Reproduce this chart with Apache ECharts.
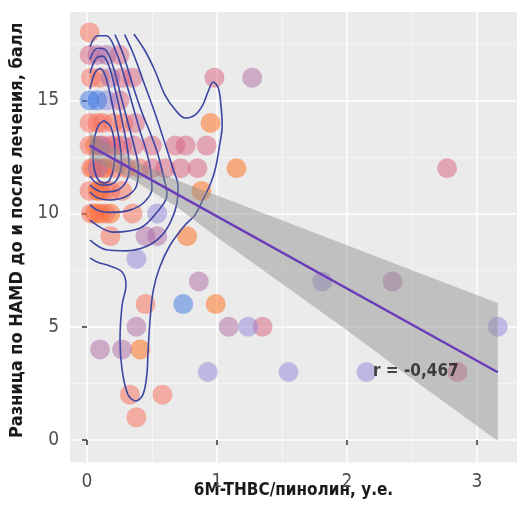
<!DOCTYPE html>
<html>
<head>
<meta charset="utf-8">
<script src="https://cdn.jsdelivr.net/npm/echarts@6/dist/echarts.min.js"></script>
<style>html,body{margin:0;padding:0;background:#fff}#c{width:517px;height:514px}</style>
</head>
<body>
<div id="c"></div>
<script>
// ---- axis ticks ----
const xTicks = [0, 1, 2, 3];
const yTicks = [0, 5, 10, 15];
const xMinor = [0.5, 1.5, 2.5];
const yMinor = [2.5, 7.5, 12.5, 17.5];

// ---- points (x = 6M-THBC/pinolin, y = HAMD difference), grouped by colour ----
const orangePts = [[0.95,14],[1.15,12],[0.88,11],[0.77,9],[0.99,6],[0.41,4],[0.1,10],[0.18,10],[0.05,12],[0.1,11],[0.06,13],[0.12,12],[0.08,11],[0.06,10]];
const salmonPts = [[0.02,18],[0.38,1],[0.33,2],[0.58,2],[0.45,6],[0.35,10],[0.18,9],[0.02,14],[0.12,14],[0.2,14],[0.28,14],[0.03,16],[0.1,16],[0.02,13],[0.15,12],[0.22,12],[0.3,12],[0.4,12],[0.02,11],[0.18,11],[0.27,11],[0.03,10],[0.03,12],[0.14,11],[0.12,13],[0.08,14],[0.14,10],[0.22,13]];
const pinkPts = [[0.98,16],[2.77,12],[2.85,3],[1.35,5],[0.76,13],[0.92,13],[0.68,13],[0.5,13],[0.72,12],[0.85,12],[0.6,12],[0.5,12],[0.27,13],[0.36,13],[0.18,13],[0.02,17],[0.25,17],[0.27,16],[0.35,16],[0.37,14],[0.25,15]];
const mauvePts = [[1.27,16],[0.86,7],[0.38,5],[1.09,5],[0.1,4],[0.27,4],[0.45,9],[0.54,9],[2.35,7],[0.08,17],[0.15,17],[0.18,16],[0.1,13],[0.08,12]];
const lavenderPts = [[0.38,8],[0.54,10],[1.24,5],[3.16,5],[0.93,3],[1.55,3],[2.15,3],[1.81,7],[0.15,15]];
const bluePts = [[0.02,15],[0.08,15],[0.74,6]];

// ---- 2D density contours (traced) ----
const contour1 = [[0.13,14.1],[0.18,13.85],[0.21,13.2],[0.215,12.6],[0.2,11.9],[0.17,11.45],[0.13,11.35],[0.085,11.5],[0.055,12.0],[0.046,12.7],[0.06,13.4],[0.09,13.9],[0.13,14.1]];
const contour2 = [[0.023,15.5],[0.06,16.2],[0.1,16.4],[0.14,16.1],[0.18,15.2],[0.22,14.1],[0.255,13.0],[0.265,12.2],[0.24,11.6],[0.19,11.3],[0.12,11.25],[0.06,11.4],[0.023,11.65]];
const contour3 = [[0.023,16.2],[0.07,16.85],[0.12,16.95],[0.17,16.5],[0.22,15.4],[0.27,14.1],[0.31,12.9],[0.325,12.0],[0.3,11.4],[0.22,11.0],[0.12,10.95],[0.023,11.25]];
const contour4 = [[0.023,16.8],[0.08,17.3],[0.14,17.25],[0.2,16.5],[0.26,15.2],[0.32,13.9],[0.37,12.8],[0.395,12.0],[0.38,11.2],[0.3,10.75],[0.18,10.6],[0.08,10.7],[0.023,10.95]];
const contour5 = [[0.023,17.35],[0.08,17.85],[0.15,17.85],[0.22,17.2],[0.29,16.0],[0.35,14.8],[0.41,13.6],[0.455,12.8],[0.49,11.9],[0.5,11.1],[0.44,10.5],[0.33,10.15],[0.18,10.05],[0.08,10.15],[0.023,10.38]];
const contour6 = [[0.215,17.9],[0.28,17.0],[0.35,15.7],[0.42,14.5],[0.49,13.5],[0.546,12.6],[0.59,11.6],[0.615,10.82],[0.54,10.07],[0.41,9.36],[0.2,9.18],[0.023,9.71]];
const contour7 = [[0.29,17.9],[0.36,17.0],[0.43,15.9],[0.5,14.8],[0.56,13.8],[0.61,12.9],[0.66,12.0],[0.7,11.2],[0.69,10.4],[0.64,9.6],[0.57,9.0],[0.46,8.55],[0.3,8.35],[0.15,8.4],[0.023,8.83]];
const contour8 = [[0.36,17.93],[0.445,17.2],[0.52,16.34],[0.6,15.23],[0.68,14.57],[0.754,14.22],[0.83,14.35],[0.89,14.79],[0.93,15.36],[0.97,15.81],[1.01,15.54],[1.03,14.79],[1.04,13.91],[1.02,13.02],[0.985,11.92],[0.946,11.26],[0.89,10.6],[0.83,9.93],[0.754,9.49],[0.64,8.61],[0.56,7.64],[0.51,6.62],[0.485,5.3],[0.47,3.97],[0.46,2.87],[0.43,2.0],[0.376,1.72],[0.315,2.0],[0.27,3.09],[0.254,4.42],[0.27,5.96],[0.3,6.84],[0.27,7.42],[0.177,7.68],[0.077,7.86],[0.023,8.04]];
const contours = [contour1, contour2, contour3, contour4, contour5, contour6, contour7, contour8];

// ---- regression line and confidence band ----
const fitX = [0.02, 3.16];
const fitY = [13.0, 2.99];
const bandX = [0.02, 0.35, 0.7, 1.0, 1.5, 2.0, 2.5, 3.16];
const bandUpper = [13.6, 12.4, 11.45, 10.8, 9.7, 8.6, 7.5, 6.05];
const bandLower = [12.4, 11.5, 10.25, 8.95, 6.9, 4.85, 2.7, -0.05];

const annotation = { x: 2.2, y: 3, text: 'r = -0,467' };

const F = "'Liberation Sans Narrow','DejaVu Sans Condensed','Roboto Condensed',Roboto,sans-serif";
const chart = echarts.init(document.getElementById('c'), null, { renderer: 'canvas' });

function pts(name, data, color) {
  return { name, type: 'scatter', data, symbolSize: 20, z: 2,
    itemStyle: { color, opacity: 0.5 }, silent: true };
}

const series = [
  pts('orange', orangePts, '#ff6a14'),
  pts('salmon', salmonPts, '#f86c58'),
  pts('pink', pinkPts, '#d7607e'),
  pts('mauve', mauvePts, '#ad6aa6'),
  pts('lavender', lavenderPts, '#8f86d8'),
  pts('blue', bluePts, '#3a74e2'),
];
contours.forEach((c, i) => series.push({
  name: 'contour' + (i + 1), type: 'line', data: c, showSymbol: false, symbol: 'none',
  smooth: 0.35, z: 3, silent: true,
  lineStyle: { color: '#3b47a3', width: 1.6 }
}));
series.push({
  name: 'band', type: 'custom', z: 4, silent: true,
  data: [[bandX[0], bandUpper[0]]],
  renderItem: function (params, api) {
    const p = [];
    for (let i = 0; i < bandX.length; i++) p.push(api.coord([bandX[i], bandUpper[i]]));
    for (let i = bandX.length - 1; i >= 0; i--) p.push(api.coord([bandX[i], bandLower[i]]));
    return { type: 'polygon', shape: { points: p }, style: { fill: 'rgba(140,140,140,0.45)' } };
  }
});
series.push({
  name: 'fit', type: 'line', z: 5, silent: true, showSymbol: false, symbol: 'none',
  data: fitX.map((x, i) => [x, fitY[i]]),
  lineStyle: { color: '#6a3db8', width: 2.5 }
});
series.push({
  name: 'r', type: 'scatter', z: 6, silent: true, symbolSize: 0,
  data: [[annotation.x, annotation.y]],
  label: { show: true, position: 'right', distance: 0, formatter: annotation.text,
    fontFamily: F, fontWeight: 'bold', fontSize: 17, color: '#1a1a1a' }
});

const xmin = -0.1308, xmax = 3.3077, ymin = -1.0, ymax = 18.9;
const tickStyle = { color: '#333', width: 1.5 };
chart.setOption({
  animation: false,
  grid: { left: 70, right: 0, top: 12, bottom: 51.4, show: true, backgroundColor: '#ebebeb', borderWidth: 0,
          containLabel: false, outerBoundsMode: 'none' },
  xAxis: [
    { type: 'value', min: xmin, max: xmax,
      axisLine: { show: false },
      axisTick: { show: true, length: 5, lineStyle: tickStyle, customValues: xTicks },
      axisLabel: { customValues: xTicks, fontFamily: F, fontSize: 19, color: '#4d4d4d', margin: 10 },
      splitLine: { show: true, lineStyle: { color: '#ffffff', width: 1.5 } },
      name: '6M-THBC/пинолин, у.е.', nameLocation: 'middle', nameGap: 19, nameMoveOverlap: false,
      nameTextStyle: { fontFamily: F, fontWeight: 'bold', fontSize: 17, color: '#1a1a1a' } },
    { type: 'value', min: xmin, max: xmax, position: 'bottom',
      axisLine: { show: false }, axisTick: { show: false, customValues: xMinor },
      axisLabel: { show: false, customValues: xMinor },
      splitLine: { show: true, lineStyle: { color: '#f7f7f7', width: 0.8 } } }
  ],
  yAxis: [
    { type: 'value', min: ymin, max: ymax,
      axisLine: { show: false },
      axisTick: { show: true, length: 5, lineStyle: tickStyle, customValues: yTicks },
      axisLabel: { customValues: yTicks, fontFamily: F, fontSize: 19, color: '#4d4d4d', margin: 11 },
      splitLine: { show: true, lineStyle: { color: '#ffffff', width: 1.5 } },
      name: 'Разница по HAMD до и после лечения, балл', nameLocation: 'middle', nameGap: 44, nameRotate: 90,
      nameMoveOverlap: false,
      nameTextStyle: { fontFamily: F, fontWeight: 'bold', fontSize: 18, color: '#1a1a1a', padding: [0, 0, 0, 14] } },
    { type: 'value', min: ymin, max: ymax, position: 'left',
      axisLine: { show: false }, axisTick: { show: false, customValues: yMinor },
      axisLabel: { show: false, customValues: yMinor },
      splitLine: { show: true, lineStyle: { color: '#f7f7f7', width: 0.8 } } }
  ],
  series
});
</script>
</body>
</html>
